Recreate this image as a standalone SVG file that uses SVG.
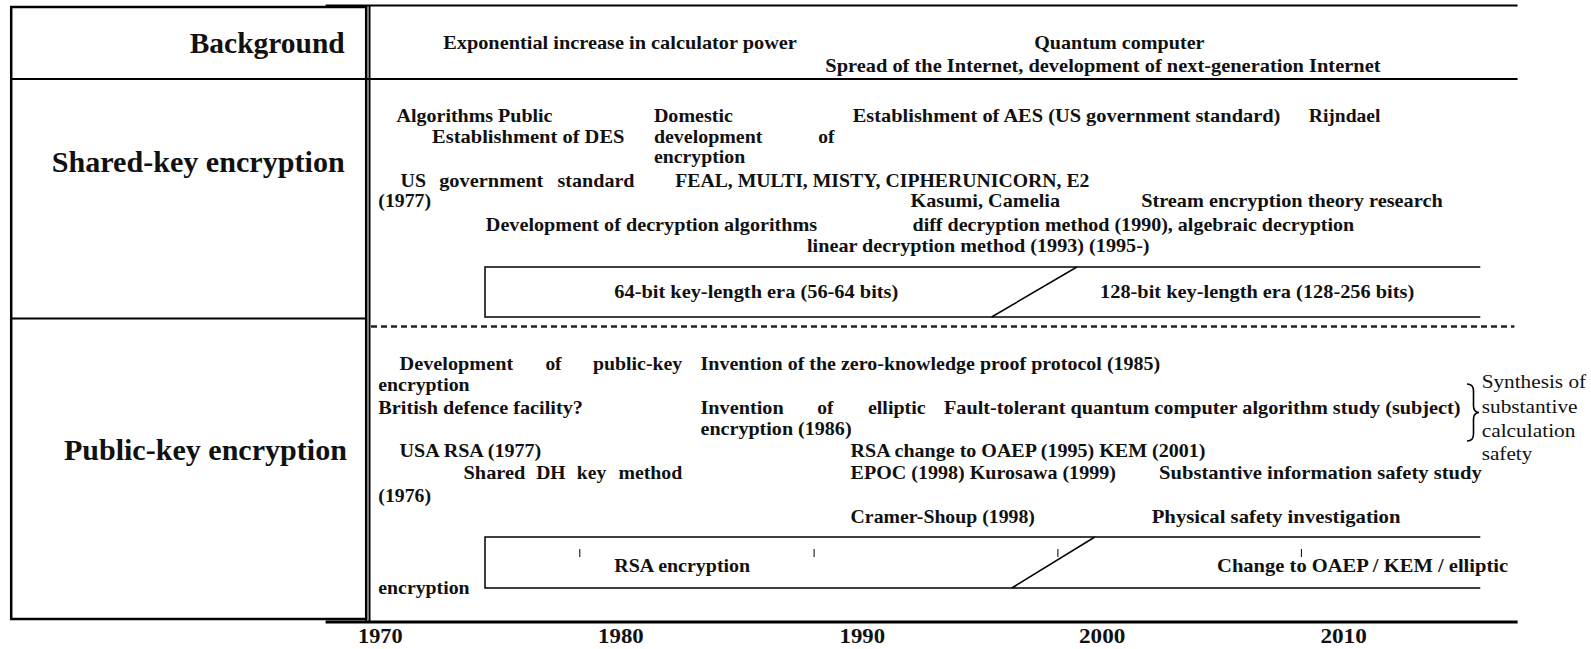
<svg xmlns="http://www.w3.org/2000/svg" width="1591" height="649" viewBox="0 0 1591 649">
<style>
.t{font-family:"Liberation Serif","Times New Roman",serif;font-weight:bold;font-size:19px;fill:#111}
.h{font-size:29px}
.r{font-weight:normal;font-size:19.5px}
.y{font-size:20px}
.ln{stroke:#000;fill:none}
.th{stroke-width:2}
.md{stroke-width:1.5}
.dash{stroke:#222;stroke-width:2.6;stroke-dasharray:6 4}
</style>
<rect width="1591" height="649" fill="#fff"/>
<g id="grid">
<line class="ln th" x1="325.6" y1="5.5" x2="1517.6" y2="5.5"/>
<rect class="ln" x="11.2" y="7" width="355" height="612" stroke-width="2.5"/>
<line class="ln th" x1="11.2" y1="79" x2="1517.6" y2="79"/>
<line class="ln th" x1="11.2" y1="318.5" x2="366" y2="318.5"/>
<line class="ln th" x1="366.1" y1="5" x2="366.1" y2="622"/>
<line class="ln th" x1="369.5" y1="5" x2="369.5" y2="622"/>
<line class="ln dash" x1="371" y1="326.5" x2="1514.4" y2="326.5"/>
<line class="ln" x1="325.6" y1="622" x2="1517.6" y2="622" stroke-width="2.8"/>
</g>
<g id="background-row">
<text class="t h" x="189.7" y="53" textLength="155" lengthAdjust="spacingAndGlyphs">Background</text>
<text class="t" x="443.2" y="49" textLength="353.7" lengthAdjust="spacingAndGlyphs">Exponential increase in calculator power</text>
<text class="t" x="1034.2" y="49" textLength="170.3" lengthAdjust="spacingAndGlyphs">Quantum computer</text>
<text class="t" x="825.3" y="72" textLength="555.2" lengthAdjust="spacingAndGlyphs">Spread of the Internet, development of next-generation Internet</text>
</g>
<g id="shared-key-row">
<text class="t h" x="51.7" y="172" textLength="293" lengthAdjust="spacingAndGlyphs">Shared-key encryption</text>
<text class="t" x="396.6" y="122" textLength="155.9" lengthAdjust="spacingAndGlyphs">Algorithms Public</text>
<text class="t" x="432" y="143" textLength="192.5" lengthAdjust="spacingAndGlyphs">Establishment of DES</text>
<text class="t" x="653.9" y="122" textLength="79" lengthAdjust="spacingAndGlyphs">Domestic</text>
<text class="t" x="653.9" y="143" textLength="108.5" lengthAdjust="spacingAndGlyphs">development</text>
<text class="t" x="818.2" y="143" textLength="16.2" lengthAdjust="spacingAndGlyphs">of</text>
<text class="t" x="653.9" y="163" textLength="91.3" lengthAdjust="spacingAndGlyphs">encryption</text>
<text class="t" x="852.7" y="122" textLength="427.7" lengthAdjust="spacingAndGlyphs">Establishment of AES (US government standard)</text>
<text class="t" x="1308.8" y="122" textLength="71.7" lengthAdjust="spacingAndGlyphs">Rijndael</text>
<text class="t" y="187"><tspan x="400.6" textLength="25.4" lengthAdjust="spacingAndGlyphs">US</tspan><tspan x="439.2" textLength="104.1" lengthAdjust="spacingAndGlyphs">government</tspan><tspan x="557.5" textLength="77" lengthAdjust="spacingAndGlyphs">standard</tspan></text>
<text class="t" x="675.2" y="187" textLength="414.3" lengthAdjust="spacingAndGlyphs">FEAL, MULTI, MISTY, CIPHERUNICORN, E2</text>
<text class="t" x="378.3" y="207" textLength="52.7" lengthAdjust="spacingAndGlyphs">(1977)</text>
<text class="t" x="910.5" y="207" textLength="149.5" lengthAdjust="spacingAndGlyphs">Kasumi, Camelia</text>
<text class="t" x="1141.2" y="207" textLength="301.5" lengthAdjust="spacingAndGlyphs">Stream encryption theory research</text>
<text class="t" x="485.8" y="231" textLength="331.4" lengthAdjust="spacingAndGlyphs">Development of decryption algorithms</text>
<text class="t" x="912.5" y="231" textLength="441.7" lengthAdjust="spacingAndGlyphs">diff decryption method (1990), algebraic decryption</text>
<text class="t" x="807" y="252" textLength="342.6" lengthAdjust="spacingAndGlyphs">linear decryption method (1993) (1995-)</text>
<path class="ln md" d="M1480.3 267H485V317H1480.3"/>
<line class="ln md" x1="991.6" y1="317" x2="1076.9" y2="267"/>
<text class="t" x="614.3" y="298" textLength="284" lengthAdjust="spacingAndGlyphs">64-bit key-length era (56-64 bits)</text>
<text class="t" x="1100.1" y="298" textLength="314.1" lengthAdjust="spacingAndGlyphs">128-bit key-length era (128-256 bits)</text>
</g>
<g id="public-key-row">
<text class="t h" x="63.9" y="460" textLength="283" lengthAdjust="spacingAndGlyphs">Public-key encryption</text>
<text class="t" y="370"><tspan x="399.6" textLength="113.6" lengthAdjust="spacingAndGlyphs">Development</tspan><tspan x="545.4" textLength="16.2" lengthAdjust="spacingAndGlyphs">of</tspan><tspan x="593" textLength="89.3" lengthAdjust="spacingAndGlyphs">public-key</tspan></text>
<text class="t" x="700.5" y="370" textLength="459.7" lengthAdjust="spacingAndGlyphs">Invention of the zero-knowledge proof protocol (1985)</text>
<text class="t" x="378.3" y="391" textLength="91.3" lengthAdjust="spacingAndGlyphs">encryption</text>
<text class="t" x="378.3" y="414" textLength="204.6" lengthAdjust="spacingAndGlyphs">British defence facility?</text>
<text class="t" y="414"><tspan x="700.5" textLength="83.2" lengthAdjust="spacingAndGlyphs">Invention</tspan><tspan x="817.2" textLength="16.2" lengthAdjust="spacingAndGlyphs">of</tspan><tspan x="867.9" textLength="57.8" lengthAdjust="spacingAndGlyphs">elliptic</tspan></text>
<text class="t" x="943.9" y="414" textLength="516.7" lengthAdjust="spacingAndGlyphs">Fault-tolerant quantum computer algorithm study (subject)</text>
<text class="t" x="700.5" y="435" textLength="151.1" lengthAdjust="spacingAndGlyphs">encryption (1986)</text>
<text class="t" x="399.6" y="457" textLength="141.7" lengthAdjust="spacingAndGlyphs">USA RSA (1977)</text>
<text class="t" x="850.6" y="457" textLength="354.9" lengthAdjust="spacingAndGlyphs">RSA change to OAEP (1995) KEM (2001)</text>
<text class="t" y="479"><tspan x="463.5" textLength="61.9" lengthAdjust="spacingAndGlyphs">Shared</tspan><tspan x="536.2" textLength="29.4" lengthAdjust="spacingAndGlyphs">DH</tspan><tspan x="576.8" textLength="29.4" lengthAdjust="spacingAndGlyphs">key</tspan><tspan x="618.4" textLength="63.9" lengthAdjust="spacingAndGlyphs">method</tspan></text>
<text class="t" x="850.6" y="479" textLength="265.3" lengthAdjust="spacingAndGlyphs">EPOC (1998) Kurosawa (1999)</text>
<text class="t" x="1159.1" y="479" textLength="322.6" lengthAdjust="spacingAndGlyphs">Substantive information safety study</text>
<text class="t" x="378.3" y="502" textLength="52.7" lengthAdjust="spacingAndGlyphs">(1976)</text>
<text class="t" x="850.6" y="523" textLength="184.3" lengthAdjust="spacingAndGlyphs">Cramer-Shoup (1998)</text>
<text class="t" x="1151.7" y="523" textLength="248.8" lengthAdjust="spacingAndGlyphs">Physical safety investigation</text>
<path class="ln md" d="M1480.3 537H485V588H1480.3"/>
<line class="ln md" x1="1011.9" y1="588" x2="1094.8" y2="537"/>
<g class="ln" stroke-width="1">
<line x1="579.8" y1="549" x2="579.8" y2="557"/>
<line x1="814.1" y1="549" x2="814.1" y2="557"/>
<line x1="1057.9" y1="549" x2="1057.9" y2="557"/>
<line x1="1301.4" y1="549" x2="1301.4" y2="557"/>
</g>
<text class="t" x="614.3" y="572" textLength="135.9" lengthAdjust="spacingAndGlyphs">RSA encryption</text>
<text class="t" x="1217.1" y="572" textLength="291" lengthAdjust="spacingAndGlyphs">Change to OAEP / KEM / elliptic</text>
<text class="t" x="378.3" y="594" textLength="91.3" lengthAdjust="spacingAndGlyphs">encryption</text>
<path class="ln" stroke-width="1.6" d="M1467 384Q1473.5 384 1473.5 391V406Q1473.5 412 1479 412.5Q1473.5 413 1473.5 419V434Q1473.5 441 1467 441"/>
<text class="t r" x="1481.7" y="388" textLength="104.4" lengthAdjust="spacingAndGlyphs">Synthesis of</text>
<text class="t r" x="1481.7" y="413" textLength="95.9" lengthAdjust="spacingAndGlyphs">substantive</text>
<text class="t r" x="1481.7" y="437" textLength="93.8" lengthAdjust="spacingAndGlyphs">calculation</text>
<text class="t r" x="1481.7" y="460" textLength="50.6" lengthAdjust="spacingAndGlyphs">safety</text>
</g>
<g id="axis">
<text class="t y" x="358" y="643" textLength="44.6" lengthAdjust="spacingAndGlyphs">1970</text>
<text class="t y" x="598.1" y="643" textLength="45.6" lengthAdjust="spacingAndGlyphs">1980</text>
<text class="t y" x="839.5" y="643" textLength="45.6" lengthAdjust="spacingAndGlyphs">1990</text>
<text class="t y" x="1079" y="643" textLength="46.4" lengthAdjust="spacingAndGlyphs">2000</text>
<text class="t y" x="1320.4" y="643" textLength="46.4" lengthAdjust="spacingAndGlyphs">2010</text>
</g>
</svg>
